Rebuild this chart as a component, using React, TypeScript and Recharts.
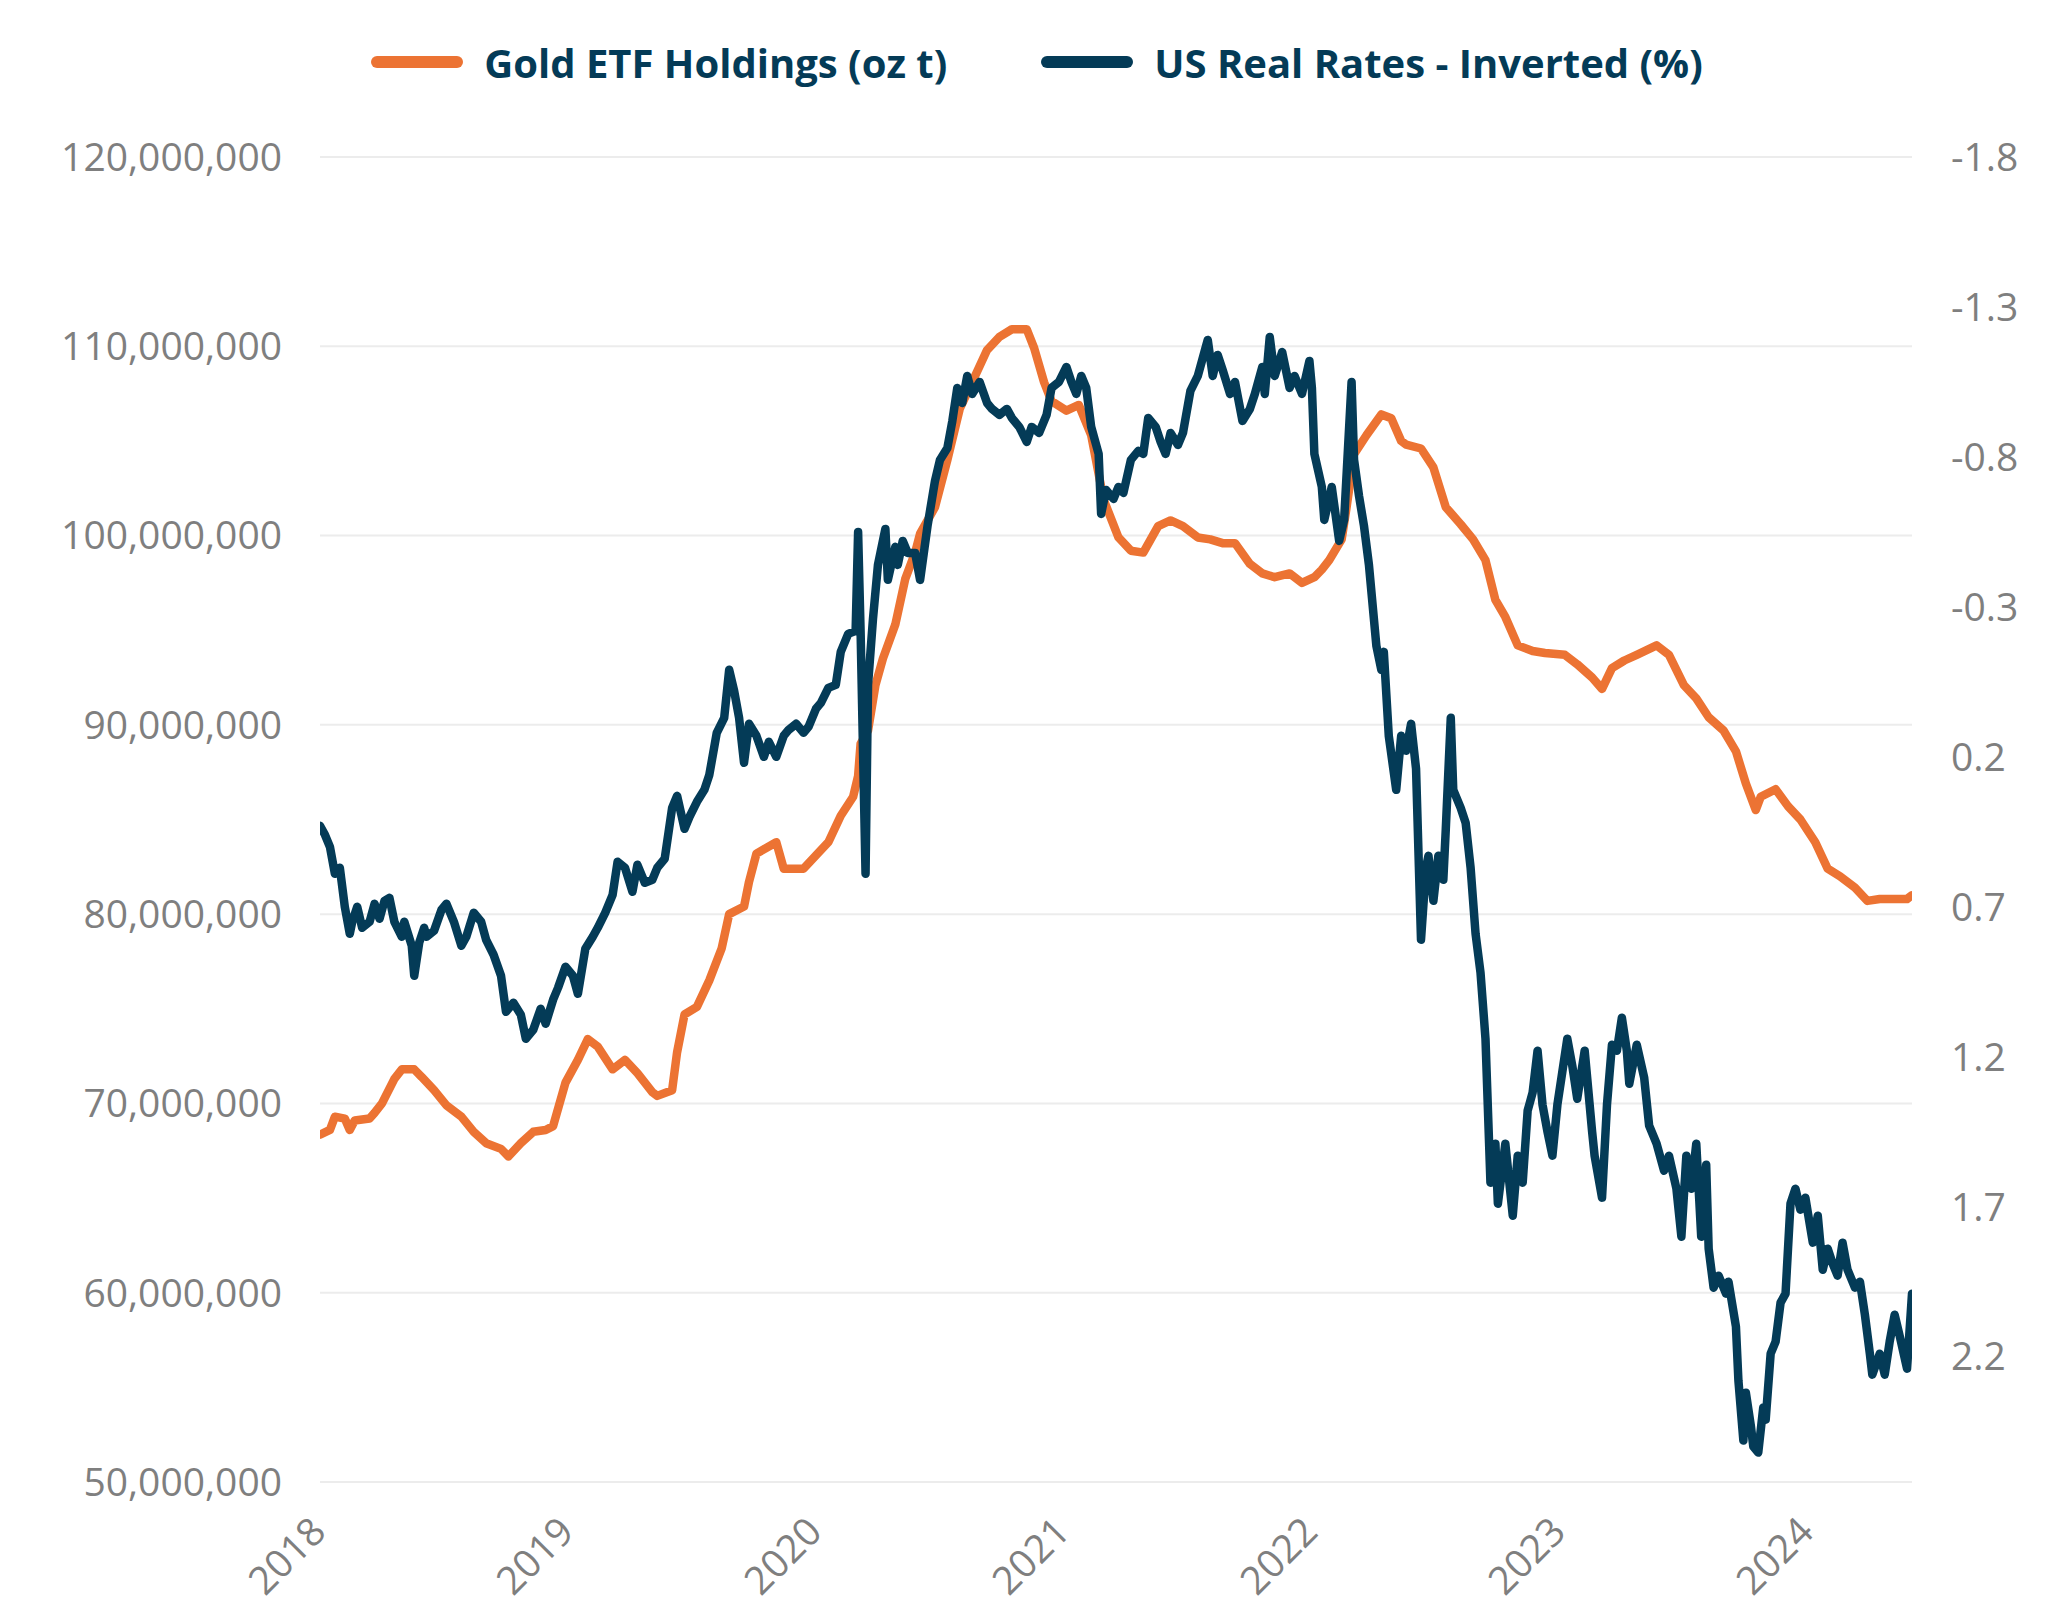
import { CartesianGrid, Legend, Line, LineChart, XAxis, YAxis } from 'recharts'

const NAVY = '#043b57'
const ORANGE = '#ec7333'
const GREY = '#7f7f7f'
const FONT = '"Open Sans", "Noto Sans", sans-serif'

const YEAR_TICKS = [2018, 2019, 2020, 2021, 2022, 2023, 2024]
// left axis, millions of troy ounces
const HOLDINGS_TICKS = [50, 60, 70, 80, 90, 100, 110, 120]
// right axis, real rate in %, drawn upside down
const RATE_TICKS = [-1.8, -1.3, -0.8, -0.3, 0.2, 0.7, 1.2, 1.7, 2.2]

const SERIES = [
  { name: 'Gold ETF Holdings (oz t)', color: ORANGE },
  { name: 'US Real Rates - Inverted (%)', color: NAVY },
]

// [year, holdings in M oz t]
const goldHoldings: [number, number][] = [
  [2018.0, 68.35], [2018.04, 68.6], [2018.06, 69.3], [2018.1, 69.2], [2018.12, 68.6],
  [2018.14, 69.1], [2018.2, 69.2], [2018.22, 69.5], [2018.25, 70.0], [2018.3, 71.3],
  [2018.33, 71.8], [2018.38, 71.8], [2018.41, 71.4], [2018.46, 70.7], [2018.51, 69.9],
  [2018.57, 69.3], [2018.62, 68.5], [2018.67, 67.9], [2018.73, 67.6], [2018.76, 67.2],
  [2018.81, 67.9], [2018.86, 68.5], [2018.91, 68.6], [2018.94, 68.8], [2018.99, 71.1],
  [2019.04, 72.3], [2019.08, 73.4], [2019.12, 73.0], [2019.18, 71.8], [2019.23, 72.3],
  [2019.28, 71.6], [2019.34, 70.6], [2019.36, 70.4], [2019.42, 70.7], [2019.44, 72.7],
  [2019.47, 74.7], [2019.52, 75.1], [2019.57, 76.5], [2019.62, 78.2], [2019.65, 80.0],
  [2019.71, 80.4], [2019.73, 81.7], [2019.76, 83.2], [2019.84, 83.8], [2019.87, 82.4],
  [2019.95, 82.4], [2020.0, 83.1], [2020.05, 83.8], [2020.1, 85.2], [2020.15, 86.2],
  [2020.17, 87.3], [2020.18, 89.0], [2020.21, 89.7], [2020.24, 92.1], [2020.27, 93.5],
  [2020.32, 95.3], [2020.36, 97.7], [2020.4, 99.1], [2020.42, 100.1], [2020.48, 101.5],
  [2020.53, 104.0], [2020.58, 106.7], [2020.63, 108.1], [2020.69, 109.8], [2020.74, 110.5],
  [2020.79, 110.9], [2020.85, 110.9], [2020.88, 109.9], [2020.92, 108.1], [2020.95, 107.1],
  [2021.01, 106.6], [2021.06, 106.9], [2021.11, 105.3], [2021.16, 101.9], [2021.22, 99.9],
  [2021.27, 99.2], [2021.32, 99.1], [2021.38, 100.5], [2021.43, 100.8], [2021.48, 100.5],
  [2021.54, 99.9], [2021.59, 99.8], [2021.64, 99.6], [2021.69, 99.6], [2021.75, 98.5],
  [2021.8, 98.0], [2021.85, 97.8], [2021.91, 98.0], [2021.96, 97.5], [2022.01, 97.8],
  [2022.04, 98.2], [2022.07, 98.7], [2022.12, 99.8], [2022.14, 101.5], [2022.17, 104.3],
  [2022.22, 105.3], [2022.28, 106.4], [2022.32, 106.2], [2022.36, 105.0], [2022.38, 104.8],
  [2022.44, 104.6], [2022.49, 103.6], [2022.54, 101.5], [2022.6, 100.6], [2022.65, 99.8],
  [2022.7, 98.7], [2022.74, 96.6], [2022.78, 95.7], [2022.83, 94.2], [2022.89, 93.9],
  [2022.94, 93.8], [2023.02, 93.7], [2023.07, 93.2], [2023.13, 92.5], [2023.17, 91.9],
  [2023.21, 93.0], [2023.26, 93.4], [2023.31, 93.7], [2023.39, 94.2], [2023.44, 93.7],
  [2023.5, 92.1], [2023.55, 91.4], [2023.6, 90.4], [2023.66, 89.7], [2023.71, 88.6],
  [2023.75, 86.9], [2023.79, 85.5], [2023.81, 86.2], [2023.87, 86.6], [2023.92, 85.7],
  [2023.97, 85.0], [2024.03, 83.8], [2024.08, 82.4], [2024.13, 82.0], [2024.19, 81.4],
  [2024.24, 80.7], [2024.29, 80.8], [2024.34, 80.8], [2024.4, 80.8], [2024.42, 81.0],
]

// [year, US 10y real rate %]
const realRates: [number, number][] = [
  [2018.0, 0.43], [2018.02, 0.46], [2018.04, 0.5], [2018.06, 0.59], [2018.08, 0.57],
  [2018.1, 0.7], [2018.12, 0.79], [2018.13, 0.75], [2018.15, 0.7], [2018.17, 0.77],
  [2018.2, 0.75], [2018.22, 0.69], [2018.24, 0.74], [2018.26, 0.68], [2018.28, 0.67],
  [2018.3, 0.75], [2018.33, 0.8], [2018.34, 0.75], [2018.37, 0.83], [2018.38, 0.93],
  [2018.4, 0.82], [2018.42, 0.77], [2018.43, 0.8], [2018.46, 0.78], [2018.49, 0.71],
  [2018.51, 0.69], [2018.54, 0.75], [2018.57, 0.83], [2018.59, 0.8], [2018.62, 0.72],
  [2018.65, 0.75], [2018.67, 0.81], [2018.7, 0.86], [2018.73, 0.93], [2018.75, 1.05],
  [2018.78, 1.02], [2018.81, 1.06], [2018.83, 1.14], [2018.86, 1.11], [2018.89, 1.04],
  [2018.91, 1.09], [2018.94, 1.01], [2018.96, 0.97], [2018.99, 0.9], [2019.02, 0.93],
  [2019.04, 0.99], [2019.07, 0.84], [2019.1, 0.8], [2019.12, 0.77], [2019.15, 0.72],
  [2019.18, 0.66], [2019.2, 0.55], [2019.23, 0.57], [2019.26, 0.65], [2019.28, 0.56],
  [2019.31, 0.62], [2019.34, 0.61], [2019.36, 0.57], [2019.39, 0.54], [2019.42, 0.37],
  [2019.44, 0.33], [2019.47, 0.44], [2019.49, 0.4], [2019.52, 0.35], [2019.55, 0.31],
  [2019.57, 0.26], [2019.6, 0.12], [2019.63, 0.07], [2019.65, -0.09], [2019.67, -0.02],
  [2019.69, 0.07], [2019.71, 0.22], [2019.73, 0.09], [2019.76, 0.13], [2019.79, 0.2],
  [2019.81, 0.15], [2019.84, 0.2], [2019.87, 0.13], [2019.89, 0.11], [2019.92, 0.09],
  [2019.95, 0.12], [2019.97, 0.1], [2020.0, 0.04], [2020.02, 0.02], [2020.05, -0.03],
  [2020.08, -0.04], [2020.1, -0.15], [2020.13, -0.21], [2020.16, -0.22], [2020.17, -0.55],
  [2020.18, -0.22], [2020.2, 0.59], [2020.21, -0.04], [2020.23, -0.26], [2020.25, -0.44],
  [2020.26, -0.48], [2020.28, -0.56], [2020.29, -0.39], [2020.32, -0.5], [2020.33, -0.44],
  [2020.35, -0.52], [2020.37, -0.48], [2020.4, -0.48], [2020.42, -0.39], [2020.45, -0.57],
  [2020.48, -0.72], [2020.5, -0.79], [2020.53, -0.83], [2020.55, -0.92], [2020.57, -1.03],
  [2020.59, -0.98], [2020.61, -1.07], [2020.63, -1.01], [2020.66, -1.05], [2020.69, -0.98],
  [2020.71, -0.96], [2020.74, -0.94], [2020.77, -0.96], [2020.79, -0.93], [2020.82, -0.9],
  [2020.85, -0.85], [2020.87, -0.9], [2020.9, -0.88], [2020.93, -0.94], [2020.95, -1.03],
  [2020.98, -1.05], [2021.01, -1.1], [2021.03, -1.05], [2021.05, -1.01], [2021.07, -1.07],
  [2021.09, -1.03], [2021.11, -0.9], [2021.14, -0.81], [2021.15, -0.61], [2021.17, -0.69],
  [2021.2, -0.66], [2021.22, -0.7], [2021.24, -0.68], [2021.27, -0.79], [2021.3, -0.82],
  [2021.32, -0.81], [2021.34, -0.93], [2021.37, -0.9], [2021.39, -0.85], [2021.41, -0.81],
  [2021.43, -0.88], [2021.46, -0.84], [2021.48, -0.88], [2021.51, -1.02], [2021.54, -1.07],
  [2021.56, -1.13], [2021.58, -1.19], [2021.6, -1.07], [2021.62, -1.14], [2021.64, -1.09],
  [2021.67, -1.01], [2021.69, -1.05], [2021.72, -0.92], [2021.75, -0.96], [2021.77, -1.01],
  [2021.8, -1.1], [2021.81, -1.01], [2021.83, -1.2], [2021.85, -1.07], [2021.88, -1.15],
  [2021.91, -1.03], [2021.93, -1.07], [2021.96, -1.01], [2021.99, -1.12], [2022.0, -1.03],
  [2022.01, -0.81], [2022.04, -0.7], [2022.05, -0.59], [2022.08, -0.7], [2022.11, -0.52],
  [2022.13, -0.59], [2022.16, -1.05], [2022.17, -0.79], [2022.19, -0.67], [2022.21, -0.57],
  [2022.23, -0.44], [2022.26, -0.17], [2022.28, -0.09], [2022.29, -0.15], [2022.31, 0.13],
  [2022.34, 0.31], [2022.36, 0.13], [2022.38, 0.18], [2022.4, 0.09], [2022.42, 0.24],
  [2022.44, 0.81], [2022.46, 0.57], [2022.47, 0.53], [2022.49, 0.68], [2022.51, 0.53],
  [2022.53, 0.61], [2022.54, 0.44], [2022.56, 0.07], [2022.57, 0.31], [2022.6, 0.37],
  [2022.62, 0.42], [2022.64, 0.57], [2022.66, 0.79], [2022.68, 0.92], [2022.7, 1.14],
  [2022.72, 1.62], [2022.74, 1.49], [2022.75, 1.69], [2022.78, 1.49], [2022.81, 1.73],
  [2022.83, 1.53], [2022.85, 1.62], [2022.87, 1.38], [2022.89, 1.32], [2022.91, 1.18],
  [2022.93, 1.36], [2022.95, 1.45], [2022.97, 1.53], [2022.99, 1.36], [2023.01, 1.25],
  [2023.03, 1.14], [2023.05, 1.23], [2023.07, 1.34], [2023.1, 1.18], [2023.13, 1.45],
  [2023.14, 1.53], [2023.17, 1.67], [2023.19, 1.36], [2023.21, 1.16], [2023.23, 1.18],
  [2023.25, 1.07], [2023.27, 1.18], [2023.28, 1.29], [2023.31, 1.16], [2023.34, 1.27],
  [2023.36, 1.43], [2023.39, 1.49], [2023.42, 1.58], [2023.44, 1.53], [2023.47, 1.64],
  [2023.49, 1.8], [2023.51, 1.53], [2023.53, 1.64], [2023.55, 1.49], [2023.57, 1.8],
  [2023.59, 1.56], [2023.6, 1.84], [2023.62, 1.97], [2023.64, 1.93], [2023.67, 1.99],
  [2023.68, 1.95], [2023.71, 2.1], [2023.72, 2.28], [2023.74, 2.48], [2023.75, 2.32],
  [2023.77, 2.43], [2023.78, 2.5], [2023.8, 2.52], [2023.82, 2.37], [2023.83, 2.41],
  [2023.85, 2.19], [2023.87, 2.15], [2023.89, 2.02], [2023.91, 1.99], [2023.93, 1.69],
  [2023.95, 1.64], [2023.97, 1.71], [2023.99, 1.67], [2024.02, 1.82], [2024.04, 1.73],
  [2024.06, 1.91], [2024.08, 1.84], [2024.1, 1.89], [2024.12, 1.93], [2024.14, 1.82],
  [2024.16, 1.91], [2024.19, 1.97], [2024.21, 1.95], [2024.23, 2.06], [2024.25, 2.19],
  [2024.26, 2.26], [2024.29, 2.19], [2024.31, 2.26], [2024.33, 2.15], [2024.35, 2.06],
  [2024.37, 2.13], [2024.4, 2.24], [2024.42, 1.99],
]

const goldData = goldHoldings.map(([t, v]) => ({ t, v }))
const rateData = realRates.map(([t, r]) => ({ t, r }))

const tickText = { fill: GREY, fontSize: 39, fontFamily: FONT }

function YearTick({ x, y, payload }: any) {
  const ax = x + 8
  const ay = y + 50
  return (
    <text
      x={ax}
      y={ay}
      transform={`rotate(-45 ${ax} ${ay})`}
      textAnchor="end"
      {...tickText}
    >
      {payload.value}
    </text>
  )
}

function ChartLegend() {
  return (
    <div
      style={{
        display: 'flex',
        justifyContent: 'center',
        alignItems: 'center',
        height: 64,
        paddingLeft: 12,
        fontFamily: FONT,
        fontWeight: 700,
        fontSize: 40,
        color: NAVY,
      }}
    >
      {SERIES.map((s, i) => (
        <div
          key={s.name}
          style={{ display: 'flex', alignItems: 'center', marginLeft: i ? 94 : 0 }}
        >
          <span
            style={{
              display: 'inline-block',
              width: 92,
              height: 12,
              borderRadius: 6,
              background: s.color,
              marginRight: 21,
            }}
          />
          <span>{s.name}</span>
        </div>
      ))}
    </div>
  )
}

export default function App() {
  return (
    <div style={{ position: 'absolute', left: 0, top: 0, background: '#fff' }}>
      <LineChart
        width={2062}
        height={1619}
        margin={{ top: 157, right: 20, bottom: 20, left: 20 }}
      >
        <Legend
          verticalAlign="middle"
          layout="horizontal"
          align="center"
          wrapperStyle={{ top: 30, left: 0, width: 2062 }}
          content={<ChartLegend />}
        />
        <CartesianGrid
          yAxisId="left"
          vertical={false}
          stroke="#ececec"
          strokeWidth={2}
        />
        <XAxis
          dataKey="t"
          type="number"
          domain={[2018, 2024.42]}
          ticks={YEAR_TICKS}
          interval={0}
          allowDataOverflow
          tickLine={false}
          axisLine={false}
          tickSize={0}
          height={117}
          tick={<YearTick />}
        />
        <YAxis
          yAxisId="left"
          domain={[50, 120]}
          ticks={HOLDINGS_TICKS}
          allowDataOverflow
          width={300}
          tickLine={false}
          axisLine={false}
          tickSize={0}
          tickMargin={38}
          tick={tickText}
          tickFormatter={(v: number) => (v * 1e6).toLocaleString('en-US')}
        />
        <YAxis
          yAxisId="right"
          orientation="right"
          reversed
          domain={[-1.8, 2.618]}
          ticks={RATE_TICKS}
          allowDataOverflow
          width={130}
          tickLine={false}
          axisLine={false}
          tickSize={0}
          tickMargin={39}
          tick={tickText}
          tickFormatter={(v: number) => v.toFixed(1)}
        />
        <Line
          yAxisId="left"
          data={goldData}
          dataKey="v"
          name={SERIES[0].name}
          type="linear"
          stroke={ORANGE}
          strokeWidth={8.5}
          strokeLinejoin="round"
          strokeLinecap="round"
          dot={false}
          activeDot={false}
          isAnimationActive={false}
        />
        <Line
          yAxisId="right"
          data={rateData}
          dataKey="r"
          name={SERIES[1].name}
          type="linear"
          stroke={NAVY}
          strokeWidth={8.5}
          strokeLinejoin="round"
          strokeLinecap="round"
          dot={false}
          activeDot={false}
          isAnimationActive={false}
        />
      </LineChart>
    </div>
  )
}
